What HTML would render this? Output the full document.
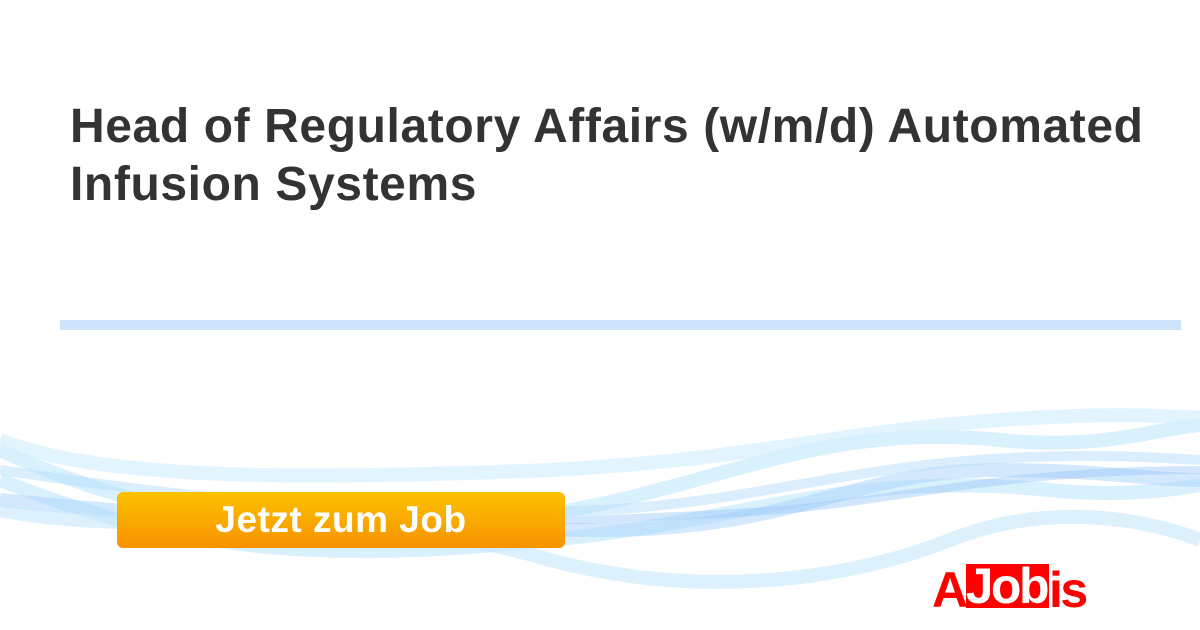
<!DOCTYPE html>
<html><head><meta charset="utf-8"><style>
body{margin:0;width:1200px;height:630px;overflow:hidden;background:#fff;position:relative;font-family:"Liberation Sans",sans-serif}
h1{position:absolute;left:70px;top:98px;margin:0;font-size:48px;line-height:58px;font-weight:bold;color:#333;width:1120px;letter-spacing:0.6px}
.bar{position:absolute;left:60px;top:320px;width:1121px;height:10px;background:#cce5fb}
svg{position:absolute;left:0;top:0}
.btn{position:absolute;left:117px;top:492px;width:448px;height:56px;border-radius:6px;background:linear-gradient(#fcc200,#f79200);color:#fff;font-weight:bold;font-size:37px;line-height:56px;text-align:center;box-sizing:border-box;padding-right:0;letter-spacing:0.5px}
.logo{position:absolute;left:932px;top:560px;height:60px;width:170px;font-weight:bold;font-size:50px;line-height:60px;letter-spacing:-2.5px;color:#f00;white-space:nowrap}
.logo b{display:inline-block;background:#f00;color:#fff;line-height:44px;height:44px;vertical-align:4px;padding-right:2px}
</style></head><body>
<h1>Head of Regulatory Affairs (w/m/d) Automated Infusion Systems</h1>
<div class="bar"></div>
<svg width="1200" height="630" viewBox="0 0 1200 630">
<g fill="none" stroke-width="14">
<path d="M0 450 C150 520 300 540 500 520 C700 500 800 420 1000 440 C1100 450 1150 430 1200 425" stroke="#bfe6fb" opacity=".6"/>
<path d="M0 480 C200 560 350 560 550 540 C750 520 850 470 1050 490 C1120 497 1170 490 1200 485" stroke="#bfe6fb" opacity=".6"/>
<path d="M0 500 C200 520 400 530 600 530 C800 530 850 470 1000 470 C1100 470 1150 480 1200 480" stroke="#a9d4fb" opacity=".5"/>
<path d="M0 510 C150 540 350 500 550 560 C700 600 850 580 950 540 C1050 500 1150 520 1200 540" stroke="#c6e8fc" opacity=".6"/>
<path d="M0 440 C100 480 300 480 550 470 C750 460 850 430 1000 420 C1100 413 1150 415 1200 418" stroke="#d6f0fd" opacity=".7"/>
<path d="M300 535 C500 520 650 520 780 510 C900 500 1000 470 1200 470" stroke="#9cc7f8" opacity=".45" stroke-width="8"/>
<path d="M0 470 C200 500 400 520 600 510 C800 500 900 440 1200 460" stroke="#b5ddfb" opacity=".5" stroke-width="10"/>
</g>
</svg>
<div class="btn">Jetzt zum Job</div>
<div class="logo">A<b>Job</b>is</div>
</body></html>
